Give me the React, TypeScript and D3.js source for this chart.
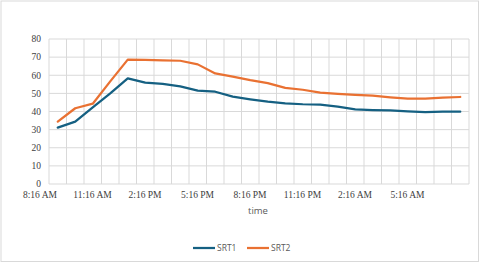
import React from 'react';
import * as d3 from 'd3';

// hourly categories, 24 of them
const times = [
  '8:16 AM', '9:16 AM', '10:16 AM', '11:16 AM', '12:16 PM', '1:16 PM',
  '2:16 PM', '3:16 PM', '4:16 PM', '5:16 PM', '6:16 PM', '7:16 PM',
  '8:16 PM', '9:16 PM', '10:16 PM', '11:16 PM', '12:16 AM', '1:16 AM',
  '2:16 AM', '3:16 AM', '4:16 AM', '5:16 AM', '6:16 AM', '7:16 AM'
];

const srt1 = [31.1, 34.4, 42.3, 50.0, 58.3, 55.9, 55.2, 53.9, 51.5, 50.9, 48.2, 46.7,
  45.4, 44.5, 44.0, 43.8, 42.7, 41.2, 40.8, 40.6, 40.1, 39.6, 39.9, 39.9];
const srt2 = [34.4, 41.8, 44.3, 56.6, 68.6, 68.5, 68.2, 68.0, 66.0, 61.0, 59.2, 57.3,
  55.7, 53.0, 52.0, 50.4, 49.7, 49.2, 48.7, 47.8, 47.1, 47.1, 47.6, 48.0];

const yTicks = [0, 10, 20, 30, 40, 50, 60, 70, 80];
const labelEvery = 3;

const series = [
  { name: 'SRT1', values: srt1, color: '#156082' },
  { name: 'SRT2', values: srt2, color: '#E97132' }
];

export default function App() {
  const w = 480, h = 263;
  const margin = { left: 49, right: 11, top: 39, bottom: 79 };

  const x = d3.scaleBand<string>()
    .domain(times)
    .range([margin.left, w - margin.right]);
  const y = d3.scaleLinear()
    .domain([0, 80])
    .range([h - margin.bottom, margin.top]);

  const line = d3.line<number>()
    .x((d, i) => (x(times[i]) as number) + x.bandwidth() / 2)
    .y(d => y(d));

  const grid = '#d9d9d9';

  return (
    <svg width={w} height={h} style={{ position: 'absolute', left: 0, top: 0 }}>
      <rect x={0} y={0} width={w} height={h} fill="#fff" />
      <rect x={1} y={1} width={w - 2.5} height={h - 2.5} fill="none" stroke="#d9d9d9" strokeWidth={1} />

      {/* horizontal grid */}
      {yTicks.map(t => (
        <line key={'h' + t} x1={margin.left} x2={w - margin.right} y1={y(t)} y2={y(t)} stroke={grid} strokeWidth={1} />
      ))}
      {/* vertical grid */}
      {times.map(t => (
        <line key={'v' + t} x1={x(t)} x2={x(t)} y1={y(0)} y2={y(80)} stroke={grid} strokeWidth={1} />
      ))}
      <line x1={w - margin.right} x2={w - margin.right} y1={y(0)} y2={y(80)} stroke={grid} strokeWidth={1} />

      {/* y labels */}
      {yTicks.map(t => (
        <text key={'yl' + t} x={41} y={y(t)} dy="0.35em" textAnchor="end"
          fontFamily="'Liberation Serif', serif" fontSize={9.5} fill="#404040">{t}</text>
      ))}
      {/* x labels */}
      {times.filter((t, i) => i % labelEvery === 0).map(t => (
        <text key={'xl' + t} x={(x(t) as number) - 9} y={198} textAnchor="middle"
          fontFamily="'Liberation Serif', serif" fontSize={9.5} fill="#404040">{t}</text>
      ))}

      <text x={258} y={214} textAnchor="middle" fontFamily="'Open Sans', sans-serif" fontSize={9.5} fill="#595959">time</text>

      {series.map(s => (
        <path key={s.name} d={line(s.values) || ''} fill="none" stroke={s.color}
          strokeWidth={2.25} strokeLinejoin="round" strokeLinecap="round" />
      ))}

      {/* legend */}
      {series.map((s, i) => (
        <g key={'lg' + s.name} transform={`translate(${193 + i * 54}, 248)`}>
          <line x1={0} x2={22} y1={0} y2={0} stroke={s.color} strokeWidth={2.25} />
          <text x={24} y={0} dy="0.35em" fontFamily="'Open Sans', sans-serif" fontSize={8.5} fill="#595959">{s.name}</text>
        </g>
      ))}
    </svg>
  );
}
